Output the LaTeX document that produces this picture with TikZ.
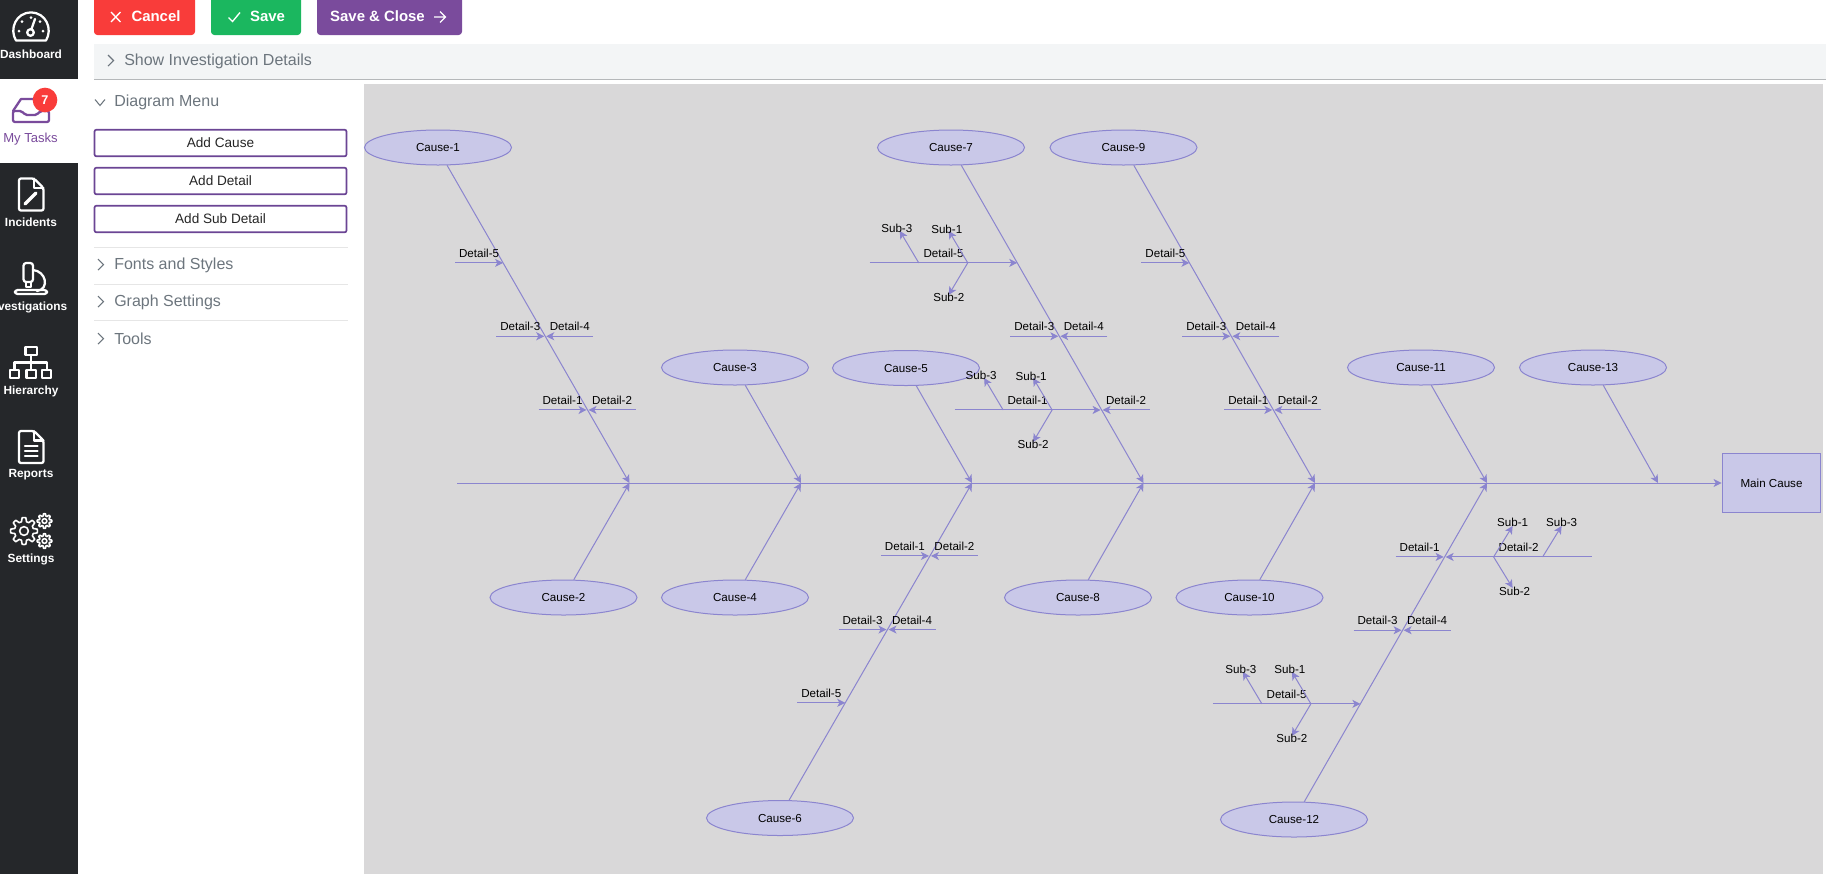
\documentclass[tikz,border=0pt]{standalone}
\usepackage{fontspec}
\usepackage{xcolor}
\setmainfont{Liberation Sans}
\usetikzlibrary{arrows.meta,calc,shapes.geometric}

\definecolor{navdark}{HTML}{25272A}
\definecolor{uipurple}{HTML}{7A4B9C}
\definecolor{btnborder}{HTML}{6B4594}
\definecolor{cancelred}{HTML}{F93C3A}
\definecolor{savegreen}{HTML}{1BB75F}
\definecolor{bargray}{HTML}{F3F5F6}
\definecolor{barline}{HTML}{B5B8BA}
\definecolor{menutext}{HTML}{6C757D}
\definecolor{ruleline}{HTML}{E6E6E6}
\definecolor{canvasgray}{HTML}{D9D8D9}
\definecolor{bonecolor}{HTML}{8B85CF}
\definecolor{causefill}{HTML}{C9C8E8}

\tikzset{
    bone/.style={draw=bonecolor,line width=0.75pt,-{Stealth[length=6pt,width=6pt,inset=1.6pt]}},
    cause/.style={ellipse,draw=bonecolor,line width=0.75pt,fill=causefill,minimum width=110.25pt,minimum height=26.25pt,inner sep=0pt,font=\fontsize{8.7}{10}\selectfont},
    tag/.style={inner sep=0pt,above=3.6pt,font=\fontsize{8.7}{10}\selectfont},
    subtag/.style={inner sep=0pt,font=\fontsize{8.7}{10}\selectfont},
    navtext/.style={text=white,font=\fontsize{8.9}{10}\selectfont\bfseries},
    icon/.style={draw=white,line width=1.7pt,line cap=round,line join=round},
    topbtn/.style={rectangle,rounded corners=2.5pt,minimum height=30.75pt,inner sep=0pt},
    toptext/.style={text=white,font=\fontsize{11.2}{13}\selectfont\bfseries},
    menuitem/.style={anchor=west,inner sep=0pt,text=menutext,font=\fontsize{12}{14}\selectfont},
    menubtn/.style={rectangle,draw=btnborder,line width=1.3pt,rounded corners=1.5pt,fill=white,minimum width=189pt,minimum height=20pt,inner sep=0pt,text=black!85,font=\fontsize{10.2}{12}\selectfont},
    chev/.style={draw=menutext,line width=0.8pt},
    cog/.pic={\draw[icon,line width=1.2pt] plot[domain=0:360,samples=97] ({(1+0.17*sign(cos(8*\x)))*cos(\x)},{(1+0.17*sign(cos(8*\x)))*sin(\x)}) -- cycle;
        \draw[icon,line width=1.2pt] (0,0) circle (0.38);},
}

\begin{document}
\begin{tikzpicture}[x=0.75pt,y=-0.75pt]
        \useasboundingbox (0,0) rectangle (1826,873.5);
        % Side bar
        \fill [navdark] (0,0) rectangle (78,875);
        \fill [white] (0,79) rectangle (78,163);
        % Dashboard
        \draw [icon] (16,40.5) .. controls (9,29) and (16,12.5) .. (31,12.5) .. controls (46,12.5) and (53,29) .. (46,40.5) -- cycle;
        \draw [icon] (30.5,32.5) circle (3.3);
        \draw [icon] (31.5,29) -- (35,19);
        \fill [white] (19,31) circle (1.5) (22,21.5) circle (1.5) (31,17.5) circle (1.5) (40,21.5) circle (1.5) (43,31) circle (1.5);
        \node [navtext] (dashboardlabel) at (31,54) {Dashboard};
        % My tasks
        \draw [icon,draw=uipurple,rounded corners=1.5pt] (13,111) -- (13,122) -- (49,122) -- (49,111) -- (40,111) -- (37,115) -- (25,115) -- (22,111) -- cycle;
        \draw [icon,draw=uipurple] (13,111) -- (21,99) -- (38,99);
        \node [circle,fill=cancelred,minimum size=18.5pt,inner sep=0pt,text=white,font=\fontsize{9.5}{10}\selectfont\bfseries] (taskbadge) at (45,100) {7};
        \node [text=uipurple,font=\fontsize{9.8}{11}\selectfont] (taskslabel) at (30.5,139) {My Tasks};
        % Incidents
        \draw [icon,rounded corners=1.5pt] (34,178.5) -- (19,178.5) -- (19,210.5) -- (43.5,210.5) -- (43.5,188) -- cycle;
        \draw [icon] (34,178.5) -- (34,188) -- (43.5,188);
        \draw [icon,line width=2.4pt] (25,204) -- (36,193);
        \node [navtext] (incidentslabel) at (31,222.5) {Incidents};
        % Investigations
        \draw [icon,rounded corners=2pt] (23.5,263) rectangle (33,282);
        \draw [icon] (26,282) -- (26,287) -- (31,287) -- (31,282);
        \draw [icon] (33,270) .. controls (46,271) and (50,289) .. (37,291);
        \draw [icon,rounded corners=2pt] (15,290) rectangle (47,294);
        \node [navtext,anchor=east] (investlabel) at (72,307) {vestigations};
        % Hierarchy
        \draw [icon] (25.5,347) rectangle (37,355);
        \draw [icon] (31,355) -- (31,370);
        \draw [icon] (14.5,370) -- (14.5,362.5) -- (47,362.5) -- (47,370);
        \draw [icon] (10,370) rectangle (19,378);
        \draw [icon] (26.5,370) rectangle (36,378);
        \draw [icon] (42,370) rectangle (51,378);
        \node [navtext] (hierarchylabel) at (31,391) {Hierarchy};
        % Reports
        \draw [icon,rounded corners=1.5pt] (34,431) -- (19,431) -- (19,463) -- (43.5,463) -- (43.5,440.5) -- cycle;
        \draw [icon] (34,431) -- (34,440.5) -- (43.5,440.5);
        \draw [icon] (25,446) -- (37.5,446);
        \draw [icon] (25,451) -- (37.5,451);
        \draw [icon] (25,456) -- (37.5,456);
        \node [navtext] (reportslabel) at (31,475) {Reports};
        % Settings
        \pic [scale=11.5] at (24,531) {cog};
        \pic [scale=6.2] at (44.5,521) {cog};
        \pic [scale=6.2] at (44.5,541) {cog};
        \node [navtext] (settingslabel) at (31,559) {Settings};
        % Top buttons
        \node [topbtn,fill=cancelred,minimum width=75.75pt] (cancelbtn) at (144.5,14.5) {};
        \draw [draw=white,line width=1pt] (111,12) -- (120.5,22) (120.5,12) -- (111,22);
        \node [toptext] (canceltext) at (156,16) {Cancel};
        \node [topbtn,fill=savegreen,minimum width=67.5pt] (savebtn) at (256,14.5) {};
        \draw [draw=white,line width=1pt] (228.5,17.5) -- (232.5,21.5) -- (240,12.5);
        \node [toptext] (savetext) at (267.5,16) {Save};
        \node [topbtn,fill=uipurple,minimum width=108.75pt] (closebtn) at (389.5,14.5) {};
        \node [toptext] (closetext) at (377.5,16) {Save \& Close};
        \draw [draw=white,line width=1pt] (434,17) -- (445,17) (440,11.5) -- (445.5,17) -- (440,22.5);
        % Details bar
        \fill [bargray] (94,44) rectangle (1826,79);
        \draw [draw=barline,line width=0.75pt] (94,79) -- (1826,79);
        \draw [chev] (108,55) -- (113.5,60.5) -- (108,66);
        \node [menuitem] (detailsbar) at (124,61) {Show Investigation Details};
        % Diagram menu
        \draw [chev] (95,99.5) -- (100,105.5) -- (105,99.5);
        \node [menuitem] (menutitle) at (114,102) {Diagram Menu};
        \node [menubtn] (addcause) at (220.5,143) {Add Cause};
        \node [menubtn] (adddetail) at (220.5,181) {Add Detail};
        \node [menubtn] (addsub) at (220.5,219) {Add Sub Detail};
        \draw [draw=ruleline,line width=0.75pt] (94,247) -- (348,247);
        \draw [chev] (98,259) -- (103.5,264.5) -- (98,270);
        \node [menuitem] (fontsitem) at (114,265) {Fonts and Styles};
        \draw [draw=ruleline,line width=0.75pt] (94,284) -- (348,284);
        \draw [chev] (98,296) -- (103.5,301.5) -- (98,307);
        \node [menuitem] (graphitem) at (114,302) {Graph Settings};
        \draw [draw=ruleline,line width=0.75pt] (94,320) -- (348,320);
        \draw [chev] (98,333) -- (103.5,338.5) -- (98,344);
        \node [menuitem] (toolsitem) at (114,338.5) {Tools};
        % Canvas
        \fill [canvasgray] (364,84) rectangle (1823,875);
        % Head and spine
        \node [rectangle,draw=bonecolor,line width=0.9pt,fill=causefill,minimum width=74pt,minimum height=44pt,inner sep=0pt,font=\fontsize{8.7}{10}\selectfont] (maincause) at (1771.5,483) {Main Cause};
        \coordinate (spinestart) at (457,483);
        \draw [bone] (spinestart) -- (maincause.west);
        \coordinate (joint1) at (629.5,483);
        \coordinate (joint2) at (801,483);
        \coordinate (joint3) at (972,483);
        \coordinate (joint4) at (1143.5,483);
        \coordinate (joint5) at (1315,483);
        \coordinate (joint6) at (1487,483);
        \coordinate (joint7) at (1658,483);
        % Causes
        \node [cause] (cause1) at (438,147.5) {Cause-1};
        \node [cause] (cause2) at (563.5,597.5) {Cause-2};
        \node [cause] (cause3) at (735,367.5) {Cause-3};
        \node [cause] (cause4) at (735,597.5) {Cause-4};
        \node [cause] (cause5) at (906,368) {Cause-5};
        \node [cause] (cause6) at (780,818) {Cause-6};
        \node [cause] (cause7) at (951,147.5) {Cause-7};
        \node [cause] (cause8) at (1078,597.5) {Cause-8};
        \node [cause] (cause9) at (1123.5,147.5) {Cause-9};
        \node [cause] (cause10) at (1249.5,597.5) {Cause-10};
        \node [cause] (cause11) at (1421,367.5) {Cause-11};
        \node [cause] (cause12) at (1294,819.5) {Cause-12};
        \node [cause] (cause13) at (1593,367.5) {Cause-13};
        \draw [bone] (cause1.-63) -- (joint1);
        \draw [bone] (cause2.60) -- (joint1);
        \draw [bone] (cause3.-60) -- (joint2);
        \draw [bone] (cause4.60) -- (joint2);
        \draw [bone] (cause5.-60) -- (joint3);
        \draw [bone] (cause6.63) -- (joint3);
        \draw [bone] (cause7.-60) -- (joint4);
        \draw [bone] (cause8.60) -- (joint4);
        \draw [bone] (cause9.-60) -- (joint5);
        \draw [bone] (cause10.60) -- (joint5);
        \draw [bone] (cause11.-60) -- (joint6);
        \draw [bone] (cause12.60) -- (joint6);
        \draw [bone] (cause13.-60) -- (joint7);
        % Details of Cause-1
        \coordinate (aa5) at ($(cause1.-63)!0.307!(joint1)$);
        \coordinate (aa3) at ($(cause1.-63)!0.538!(joint1)$);
        \coordinate (aa1) at ($(cause1.-63)!0.77!(joint1)$);
        \coordinate (aa5s) at ($(aa5)+(-48,0)$);
        \coordinate (aa3s) at ($(aa3)+(-49,0)$);
        \coordinate (aa4s) at ($(aa3)+(48,0)$);
        \coordinate (aa1s) at ($(aa1)+(-49,0)$);
        \coordinate (aa2s) at ($(aa1)+(48,0)$);
        \draw [bone] (aa5s) -- node[tag] (aa5l) {Detail-5} (aa5);
        \draw [bone] (aa3s) -- node[tag] (aa3l) {Detail-3} ($(aa3)+(-1,0)$);
        \draw [bone] (aa4s) -- node[tag] (aa4l) {Detail-4} ($(aa3)+(1,0)$);
        \draw [bone] (aa1s) -- node[tag] (aa1l) {Detail-1} ($(aa1)+(-1,0)$);
        \draw [bone] (aa2s) -- node[tag] (aa2l) {Detail-2} ($(aa1)+(1,0)$);
        % Details of Cause-9
        \coordinate (ii5) at ($(cause9.-60)!0.307!(joint5)$);
        \coordinate (ii3) at ($(cause9.-60)!0.538!(joint5)$);
        \coordinate (ii1) at ($(cause9.-60)!0.77!(joint5)$);
        \coordinate (ii5s) at ($(ii5)+(-48,0)$);
        \coordinate (ii3s) at ($(ii3)+(-49,0)$);
        \coordinate (ii4s) at ($(ii3)+(48,0)$);
        \coordinate (ii1s) at ($(ii1)+(-49,0)$);
        \coordinate (ii2s) at ($(ii1)+(48,0)$);
        \draw [bone] (ii5s) -- node[tag] (ii5l) {Detail-5} (ii5);
        \draw [bone] (ii3s) -- node[tag] (ii3l) {Detail-3} ($(ii3)+(-1,0)$);
        \draw [bone] (ii4s) -- node[tag] (ii4l) {Detail-4} ($(ii3)+(1,0)$);
        \draw [bone] (ii1s) -- node[tag] (ii1l) {Detail-1} ($(ii1)+(-1,0)$);
        \draw [bone] (ii2s) -- node[tag] (ii2l) {Detail-2} ($(ii1)+(1,0)$);
        % Details of Cause-6
        \coordinate (ff5) at ($(cause6.63)!0.307!(joint3)$);
        \coordinate (ff3) at ($(cause6.63)!0.538!(joint3)$);
        \coordinate (ff1) at ($(cause6.63)!0.77!(joint3)$);
        \coordinate (ff5s) at ($(ff5)+(-48,0)$);
        \coordinate (ff3s) at ($(ff3)+(-49,0)$);
        \coordinate (ff4s) at ($(ff3)+(48,0)$);
        \coordinate (ff1s) at ($(ff1)+(-49,0)$);
        \coordinate (ff2s) at ($(ff1)+(48,0)$);
        \draw [bone] (ff5s) -- node[tag] (ff5l) {Detail-5} (ff5);
        \draw [bone] (ff3s) -- node[tag] (ff3l) {Detail-3} ($(ff3)+(-1,0)$);
        \draw [bone] (ff4s) -- node[tag] (ff4l) {Detail-4} ($(ff3)+(1,0)$);
        \draw [bone] (ff1s) -- node[tag] (ff1l) {Detail-1} ($(ff1)+(-1,0)$);
        \draw [bone] (ff2s) -- node[tag] (ff2l) {Detail-2} ($(ff1)+(1,0)$);
        % Details of Cause-7
        \coordinate (gg5) at ($(cause7.-60)!0.307!(joint4)$);
        \coordinate (gg3) at ($(cause7.-60)!0.538!(joint4)$);
        \coordinate (gg1) at ($(cause7.-60)!0.77!(joint4)$);
        \coordinate (gg5s) at ($(gg5)+(-147.5,0)$);
        \coordinate (gg3s) at ($(gg3)+(-49,0)$);
        \coordinate (gg4s) at ($(gg3)+(48,0)$);
        \coordinate (gg1s) at ($(gg1)+(-147,0)$);
        \coordinate (gg2s) at ($(gg1)+(48,0)$);
        \draw [bone] (gg5s) -- node[tag] (gg5l) {Detail-5} (gg5);
        \draw [bone] (gg3s) -- node[tag] (gg3l) {Detail-3} ($(gg3)+(-1,0)$);
        \draw [bone] (gg4s) -- node[tag] (gg4l) {Detail-4} ($(gg3)+(1,0)$);
        \draw [bone] (gg1s) -- node[tag] (gg1l) {Detail-1} ($(gg1)+(-1,0)$);
        \draw [bone] (gg2s) -- node[tag] (gg2l) {Detail-2} ($(gg1)+(1,0)$);
        % Subs of Cause-7, Detail-5
        \coordinate (gg5j) at ($(gg5)+(-49.5,0)$);
        \coordinate (gg5r) at ($(gg5)+(-98.5,0)$);
        \coordinate (gg5a) at ($(gg5j)+(-19,-32)$);
        \coordinate (gg5b) at ($(gg5j)+(-19,32)$);
        \coordinate (gg5c) at ($(gg5r)+(-19,-32)$);
        \draw [bone] (gg5j) -- (gg5a) node[subtag,xshift=-1.5pt,yshift=1.5pt] (gg5al) {Sub-1};
        \draw [bone] (gg5j) -- (gg5b) node[subtag,yshift=-1.5pt] (gg5bl) {Sub-2};
        \draw [bone] (gg5r) -- (gg5c) node[subtag,xshift=-2.2pt,yshift=2.2pt] (gg5cl) {Sub-3};
        % Subs of Cause-7, Detail-1
        \coordinate (gg1j) at ($(gg1)+(-49.5,0)$);
        \coordinate (gg1r) at ($(gg1)+(-98.5,0)$);
        \coordinate (gg1a) at ($(gg1j)+(-19,-32)$);
        \coordinate (gg1b) at ($(gg1j)+(-19,32)$);
        \coordinate (gg1c) at ($(gg1r)+(-19,-32)$);
        \draw [bone] (gg1j) -- (gg1a) node[subtag,xshift=-1.5pt,yshift=1.5pt] (gg1al) {Sub-1};
        \draw [bone] (gg1j) -- (gg1b) node[subtag,yshift=-1.5pt] (gg1bl) {Sub-2};
        \draw [bone] (gg1r) -- (gg1c) node[subtag,xshift=-2.2pt,yshift=2.2pt] (gg1cl) {Sub-3};
        % Details of Cause-12
        \coordinate (ll5) at ($(cause12.60)!0.307!(joint6)$);
        \coordinate (ll3) at ($(cause12.60)!0.538!(joint6)$);
        \coordinate (ll1) at ($(cause12.60)!0.768!(joint6)$);
        \coordinate (ll5s) at ($(ll5)+(-147.5,0)$);
        \coordinate (ll3s) at ($(ll3)+(-49,0)$);
        \coordinate (ll4s) at ($(ll3)+(48,0)$);
        \coordinate (ll1s) at ($(ll1)+(-49,0)$);
        \coordinate (ll2s) at ($(ll1)+(147,0)$);
        \draw [bone] (ll5s) -- node[tag] (ll5l) {Detail-5} (ll5);
        \draw [bone] (ll3s) -- node[tag] (ll3l) {Detail-3} ($(ll3)+(-1,0)$);
        \draw [bone] (ll4s) -- node[tag] (ll4l) {Detail-4} ($(ll3)+(1,0)$);
        \draw [bone] (ll1s) -- node[tag] (ll1l) {Detail-1} ($(ll1)+(-1,0)$);
        \draw [bone] (ll2s) -- node[tag] (ll2l) {Detail-2} ($(ll1)+(1,0)$);
        % Subs of Cause-12, Detail-5
        \coordinate (ll5j) at ($(ll5)+(-49.5,0)$);
        \coordinate (ll5r) at ($(ll5)+(-98.5,0)$);
        \coordinate (ll5a) at ($(ll5j)+(-19,-32)$);
        \coordinate (ll5b) at ($(ll5j)+(-19,32)$);
        \coordinate (ll5c) at ($(ll5r)+(-19,-32)$);
        \draw [bone] (ll5j) -- (ll5a) node[subtag,xshift=-1.5pt,yshift=1.5pt] (ll5al) {Sub-1};
        \draw [bone] (ll5j) -- (ll5b) node[subtag,yshift=-1.5pt] (ll5bl) {Sub-2};
        \draw [bone] (ll5r) -- (ll5c) node[subtag,xshift=-1.5pt,yshift=2.2pt] (ll5cl) {Sub-3};
        % Subs of Cause-12, Detail-2
        \coordinate (ll2j) at ($(ll1)+(49,0)$);
        \coordinate (ll2r) at ($(ll1)+(98,0)$);
        \coordinate (ll2a) at ($(ll2j)+(19,-31)$);
        \coordinate (ll2b) at ($(ll2j)+(19,31)$);
        \coordinate (ll2c) at ($(ll2r)+(19,-31)$);
        \draw [bone] (ll2j) -- (ll2a) node[subtag,yshift=3pt] (ll2al) {Sub-1};
        \draw [bone] (ll2j) -- (ll2b) node[subtag,xshift=1.5pt,yshift=-2.2pt] (ll2bl) {Sub-2};
        \draw [bone] (ll2r) -- (ll2c) node[subtag,yshift=3pt] (ll2cl) {Sub-3};
    \end{tikzpicture}
\end{document}
